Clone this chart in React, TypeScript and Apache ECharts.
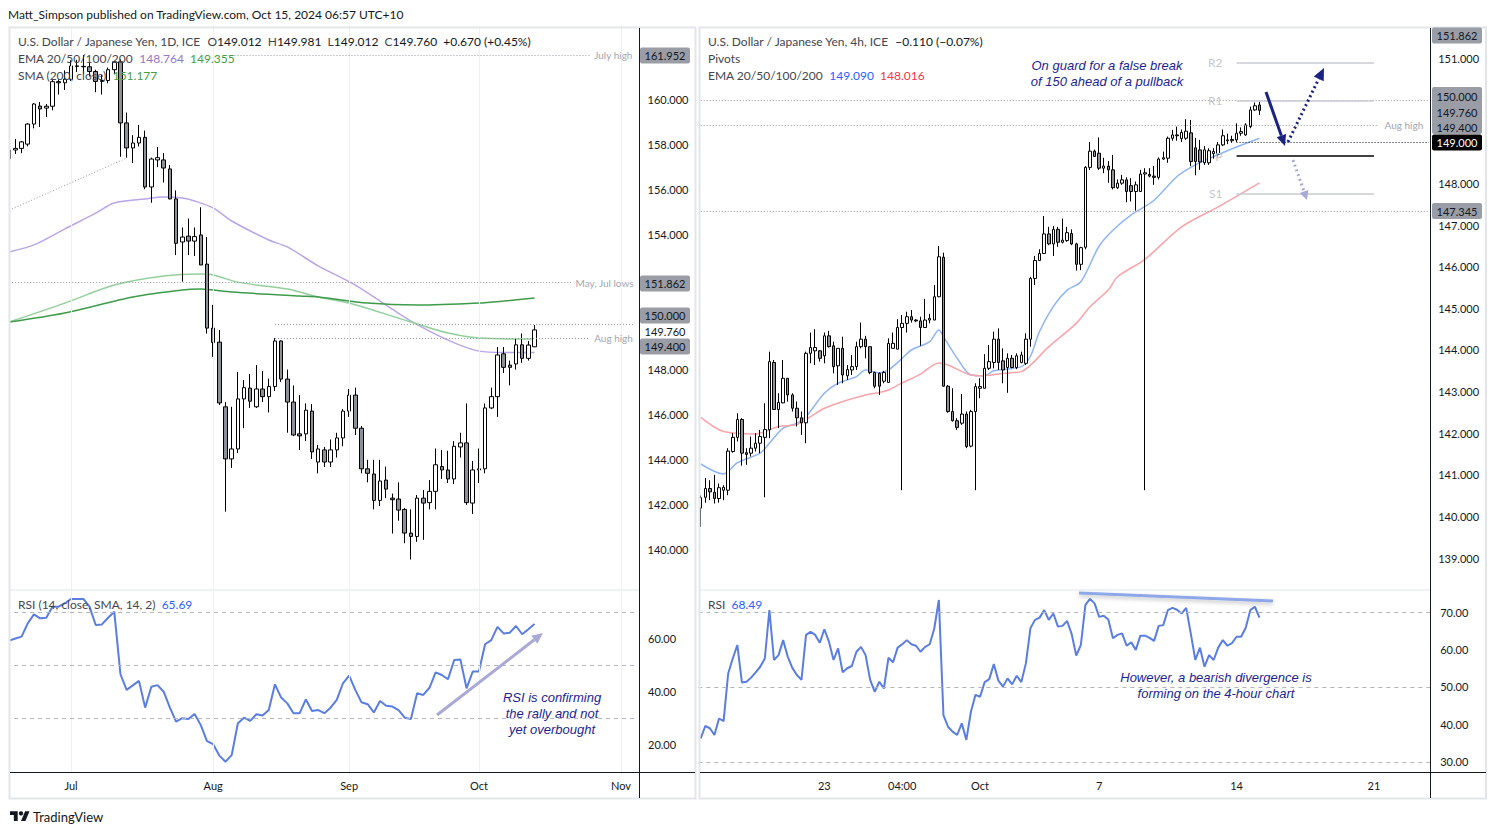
import React, { useEffect, useRef } from "react";
import * as echarts from "echarts";

const LATO = 'Lato, "Liberation Sans", Arial, sans-serif';
const ARIAL = '"Liberation Sans", Arial, sans-serif';
const INK = "#131722";
const LEG = "#434651";
const NAVY = "#1c1f8f";
const GRAYLBL = "#a3a6af";

// ---------------- LEFT: daily ----------------
const dailyStart = "2024-06-17";
const dailySlots = 102;
const dailyTicks: [string, string][] = [
  ["2024-07-01", "Jul"],
  ["2024-08-01", "Aug"],
  ["2024-09-02", "Sep"],
  ["2024-10-01", "Oct"],
  ["2024-11-01", "Nov"],
];
// [open, high, low, close]
const dailyOHLC: number[][] = [
  [157.35, 157.9, 157.2, 157.74],
  [157.74, 158.23, 157.56, 157.81],
  [157.81, 158.14, 157.6, 158.1],
  [158.0, 158.93, 157.9, 158.89],
  [158.89, 159.82, 158.7, 159.78],
  [159.69, 159.87, 158.76, 159.56],
  [159.6, 159.78, 159.2, 159.68],
  [159.68, 160.87, 159.5, 160.77],
  [160.77, 160.87, 160.2, 160.72],
  [160.72, 161.27, 160.4, 160.88],
  [160.88, 161.72, 160.8, 161.47],
  [161.47, 161.74, 161.2, 161.45],
  [161.45, 161.95, 161.1, 161.43],
  [161.43, 161.6, 161.0, 161.22],
  [161.22, 161.3, 160.3, 160.78],
  [160.78, 161.07, 160.2, 160.82],
  [160.82, 161.4, 160.7, 161.3],
  [161.3, 161.7, 161.1, 161.65],
  [161.65, 161.76, 157.44, 158.94],
  [158.94, 159.4, 157.4, 157.83],
  [157.83, 158.4, 157.16, 158.05],
  [158.05, 158.85, 157.9, 158.3],
  [158.3, 158.6, 156.0, 156.1],
  [156.1, 157.4, 155.4, 157.34],
  [157.3, 157.87, 156.98, 157.4],
  [157.3, 157.6, 156.3, 156.94],
  [156.9, 157.07, 155.55, 155.57],
  [155.57, 155.95, 153.08, 153.6],
  [153.66, 154.3, 151.9, 153.88],
  [153.92, 154.7, 153.08, 153.7],
  [153.7, 154.3, 153.04, 153.9],
  [153.97, 155.2, 152.64, 152.64],
  [152.68, 153.88, 149.6, 149.84],
  [149.84, 150.87, 148.56, 149.2],
  [149.22, 149.76, 146.43, 146.52],
  [146.35, 146.56, 141.7, 144.04],
  [144.04, 146.35, 143.64, 144.48],
  [144.48, 147.9, 144.3, 146.7],
  [146.7, 147.54, 145.4, 147.2],
  [147.18, 147.8, 146.3, 146.6],
  [146.35, 148.2, 146.3, 147.14],
  [147.14, 147.94, 146.56, 146.8],
  [146.8, 147.6, 146.1, 147.25],
  [147.25, 149.4, 147.05, 149.27],
  [149.27, 149.3, 147.45, 147.58],
  [147.58, 148.0, 145.2, 146.56],
  [146.56, 147.3, 145.05, 145.1],
  [145.15, 146.87, 144.43, 145.06],
  [145.15, 146.5, 144.83, 146.2],
  [146.16, 146.47, 144.04, 144.35],
  [143.9, 144.66, 143.4, 144.48],
  [144.44, 144.57, 143.68, 143.9],
  [143.9, 144.9, 143.68, 144.44],
  [144.44, 145.2, 144.1, 144.97],
  [144.97, 146.25, 144.6, 146.16],
  [146.16, 147.14, 145.9, 146.87],
  [146.87, 147.2, 145.1, 145.4],
  [145.4, 145.5, 143.4, 143.6],
  [143.6, 144.0, 143.0, 143.4],
  [143.37, 144.0, 141.8, 142.2],
  [142.2, 144.0, 141.95, 143.06],
  [143.1, 143.7, 142.3, 142.7],
  [142.3, 142.5, 140.73, 142.23],
  [142.26, 143.0, 141.3, 141.77],
  [141.8, 141.86, 140.3, 140.75],
  [140.75, 141.8, 139.58, 140.6],
  [140.6, 142.44, 140.36, 142.3],
  [142.3, 142.66, 140.45, 142.08],
  [142.1, 143.1, 141.8, 142.6],
  [142.6, 144.5, 141.8, 143.78],
  [143.7, 144.43, 143.15, 143.55],
  [143.55, 144.4, 142.97, 143.15],
  [143.15, 144.83, 142.93, 144.6],
  [144.57, 145.2, 144.1, 144.75],
  [144.75, 146.5, 142.0, 142.1],
  [142.08, 143.95, 141.6, 143.55],
  [143.55, 144.5, 142.97, 143.6],
  [143.6, 146.5, 143.4, 146.3],
  [146.3, 147.2, 146.25, 146.8],
  [146.8, 149.0, 145.9, 148.65],
  [148.7, 149.0, 147.85, 148.1],
  [148.2, 148.4, 147.3, 148.1],
  [148.25, 149.36, 148.0, 149.1],
  [149.1, 149.6, 148.3, 148.5],
  [148.5, 149.27, 148.4, 149.09],
  [149.012, 149.981, 149.012, 149.76],
];
// moving averages read at bar indices: [barIndex, value]
const dailyEmaPurple: number[][] = [
  [0, 153.22], [4, 153.53], [9, 154.24], [14, 154.94], [17, 155.39], [22, 155.57], [25, 155.65],
  [28, 155.61], [30, 155.48], [33, 155.17], [36, 154.59], [42, 153.75], [45, 153.44], [50, 152.6],
  [56, 151.75], [61, 150.86], [65, 150.15], [71, 149.31], [76, 148.82], [80, 148.76], [85, 148.764],
];
const dailyEmaGreen: number[][] = [
  [0, 150.11], [9, 150.95], [17, 151.75], [25, 152.15], [31, 152.24], [33, 152.2], [37, 151.88],
  [45, 151.57], [47, 151.44], [50, 151.22], [55, 150.95], [65, 150.11], [71, 149.62], [76, 149.4], [85, 149.355],
];
const dailySma200: number[][] = [
  [0, 150.11], [9, 150.51], [20, 151.22], [28, 151.53], [31, 151.57], [36, 151.44], [47, 151.26],
  [50, 151.22], [58, 150.95], [66, 150.86], [76, 150.95], [80, 151.04], [85, 151.177],
];
const dailyRsi: number[] = [
  59.4, 60.2, 60.9, 65.9, 69.3, 67.8, 68.0, 72.2, 72.2, 73.5,
  75.1, 75.1, 75.1, 72.2, 65.3, 65.5, 68.0, 70.3, 46.7, 40.8,
  42.5, 44.2, 34.1, 42.0, 42.6, 40.1, 34.1, 28.8, 30.1, 29.8,
  31.7, 27.5, 21.5, 20.3, 16.0, 13.7, 16.2, 28.2, 30.3, 29.1,
  31.6, 31.1, 33.2, 42.9, 37.9, 35.7, 32.0, 32.0, 37.2, 32.8,
  33.2, 32.0, 34.1, 37.0, 43.3, 46.2, 40.8, 36.1, 35.4, 32.3,
  36.6, 34.8, 34.5, 33.2, 30.3, 29.8, 39.5, 38.9, 41.6, 47.4,
  46.4, 44.8, 52.1, 52.3, 41.4, 47.7, 47.7, 58.0, 59.6, 64.6,
  62.1, 62.4, 64.9, 61.8, 63.7, 65.69,
];
const dailyPriceTicks = [140, 142, 144, 146, 148, 154, 156, 158, 160];
const dailyRsiTicks = [20, 40, 60];
const rsiLevels = [70, 50, 30];
// horizontal levels: price, from bar, to bar, label
const dailyLevels: [number, number, number, string][] = [
  [161.952, 35, 94, "July high"],
  [151.862, 0, 91, "May, Jul lows"],
  [150.0, 43, 101, ""],
  [149.4, 43, 94, "Aug high"],
];
const dailyTrend: number[][] = [[0, 155.07], [19, 157.38]];

// ---------------- RIGHT: 4h ----------------
const h4Slots = 160;
const h4Ticks: [number, string][] = [[27, "23"], [44, "04:00"], [61, "Oct"], [87, "7"], [117, "14"], [147, "21"]];
const h4OHLC: number[][] = [
  [140.2, 140.5, 139.75, 140.45], [140.46, 140.92, 140.33, 140.67], [140.67, 140.87, 140.39, 140.59],
  [140.58, 141.0, 140.31, 140.43], [140.43, 140.79, 140.33, 140.69], [140.63, 140.75, 140.39, 140.7],
  [140.63, 141.64, 140.51, 141.57], [141.56, 142.0, 141.53, 141.9], [141.9, 142.48, 141.8, 142.33],
  [142.33, 142.36, 141.22, 141.52], [141.53, 141.64, 141.24, 141.49], [141.52, 141.92, 141.44, 141.64],
  [141.64, 142.0, 141.56, 141.76], [141.76, 142.08, 141.52, 141.92], [141.9, 142.72, 140.46, 142.09],
  [142.08, 143.96, 141.88, 143.72], [143.7, 143.76, 142.56, 142.57], [142.57, 142.96, 142.12, 142.74],
  [142.73, 143.76, 142.72, 143.32], [143.32, 143.32, 142.76, 142.92], [142.92, 142.96, 142.52, 142.6],
  [142.6, 142.76, 142.16, 142.37], [142.37, 142.52, 141.96, 142.25], [142.25, 143.96, 141.76, 143.92],
  [143.92, 144.42, 143.68, 144.06], [143.98, 144.5, 143.64, 144.06], [143.98, 144.0, 143.72, 143.8],
  [143.86, 144.42, 143.68, 144.34], [144.34, 144.46, 144.06, 144.08], [144.1, 144.2, 143.44, 143.6],
  [143.62, 144.04, 143.16, 144.04], [144.04, 144.32, 143.2, 143.4], [143.38, 143.64, 143.28, 143.53],
  [143.52, 143.88, 143.4, 143.6], [143.6, 144.2, 143.52, 144.08], [144.08, 144.66, 144.04, 144.26],
  [144.26, 144.34, 143.8, 144.08], [144.08, 144.08, 143.42, 143.46], [143.46, 143.48, 143.08, 143.13],
  [143.44, 143.46, 142.92, 143.13], [143.25, 143.5, 143.2, 143.46], [143.22, 144.28, 143.21, 144.16],
  [144.04, 144.42, 144.04, 144.16], [144.02, 144.74, 144.02, 144.54], [144.54, 144.84, 140.63, 144.64],
  [144.64, 144.92, 144.42, 144.8], [144.8, 144.96, 144.66, 144.72], [144.72, 144.74, 144.67, 144.7],
  [144.7, 144.8, 144.1, 144.54], [144.54, 145.23, 144.54, 144.72], [144.72, 144.87, 144.64, 144.76],
  [144.72, 145.56, 144.72, 145.28], [145.28, 146.5, 145.27, 146.24], [146.23, 146.34, 143.12, 143.13],
  [143.13, 143.16, 142.49, 142.52], [142.52, 143.08, 142.28, 142.3], [142.3, 142.36, 142.08, 142.14],
  [142.24, 142.94, 142.2, 142.46], [142.46, 142.52, 141.64, 141.68], [141.69, 142.56, 141.66, 142.52],
  [142.52, 143.2, 140.63, 143.12], [143.08, 143.32, 142.84, 143.12], [143.08, 143.9, 143.08, 143.56],
  [143.56, 144.12, 143.52, 143.72], [143.7, 144.44, 143.56, 144.26], [144.26, 144.52, 143.52, 143.7],
  [143.74, 144.04, 143.2, 143.52], [143.58, 143.92, 142.97, 143.8], [143.8, 143.88, 143.56, 143.58],
  [143.58, 143.92, 143.54, 143.86], [143.7, 143.96, 143.68, 143.88], [143.68, 144.4, 143.64, 144.26],
  [144.26, 145.76, 144.08, 145.72], [145.72, 146.26, 145.56, 146.15], [146.15, 146.42, 146.15, 146.32],
  [146.32, 147.22, 146.32, 146.79], [146.79, 146.96, 146.52, 146.55], [146.55, 146.98, 146.26, 146.9],
  [146.9, 146.96, 146.48, 146.59], [146.59, 147.16, 146.56, 146.64], [146.63, 146.96, 146.6, 146.82],
  [146.8, 146.9, 146.52, 146.55], [146.55, 146.58, 145.91, 146.06], [146.06, 146.48, 145.92, 146.46],
  [146.47, 148.42, 146.42, 148.39], [148.39, 149.0, 148.33, 148.78], [148.78, 148.82, 148.65, 148.65],
  [148.73, 149.11, 148.33, 148.37], [148.37, 148.62, 148.25, 148.42], [148.42, 148.54, 148.02, 148.33],
  [148.33, 148.69, 147.86, 147.9], [147.9, 148.1, 147.87, 148.01], [148.01, 148.21, 147.97, 148.09],
  [148.09, 148.15, 147.55, 147.81], [147.95, 148.13, 147.57, 147.81], [147.81, 148.05, 147.35, 147.97],
  [147.81, 148.33, 147.81, 148.23], [148.23, 148.37, 140.63, 148.26], [148.22, 148.37, 148.15, 148.18],
  [148.18, 148.42, 147.97, 148.15], [148.15, 148.63, 148.1, 148.59], [148.59, 148.77, 148.57, 148.62],
  [148.61, 149.13, 148.5, 149.09], [149.09, 149.29, 149.03, 149.17], [149.17, 149.37, 149.03, 149.15],
  [149.08, 149.3, 149.0, 149.23], [149.09, 149.55, 149.05, 149.26], [149.22, 149.53, 148.42, 148.53],
  [148.86, 149.1, 148.2, 148.53], [148.81, 149.05, 148.33, 148.52], [148.5, 148.9, 148.45, 148.81],
  [148.5, 148.85, 148.45, 148.79], [148.72, 148.85, 148.6, 148.77], [148.71, 149.0, 148.65, 148.93],
  [148.93, 149.3, 148.9, 149.15], [149.05, 149.2, 148.95, 149.03], [149.03, 149.15, 148.98, 149.06],
  [149.05, 149.45, 149.0, 149.21], [149.21, 149.35, 149.15, 149.25], [149.17, 149.45, 149.15, 149.41],
  [149.37, 149.85, 149.33, 149.77], [149.77, 149.95, 149.75, 149.87], [149.89, 149.97, 149.65, 149.76],
];
const h4EmaBlue: number[][] = [
  [0, 141.26], [5, 141.02], [8, 141.29], [13, 141.52], [15, 141.76], [18, 142.12], [21, 142.24], [23, 142.4],
  [27, 142.96], [30, 143.2], [34, 143.36], [36, 143.52], [39, 143.45], [41, 143.52], [44, 143.8], [46, 144.0],
  [50, 144.2], [52, 144.48], [53, 144.32], [56, 143.8], [59, 143.4], [62, 143.38], [64, 143.5], [70, 143.6],
  [72, 143.85], [74, 144.45], [77, 145.05], [80, 145.44], [83, 145.64], [87, 146.5], [90, 146.88], [94, 147.25],
  [99, 147.6], [104, 148.17], [108, 148.45], [112, 148.65], [117, 148.88], [122, 149.09],
];
const h4EmaRed: number[][] = [
  [0, 142.38], [5, 142.04], [12, 141.98], [17, 142.16], [21, 142.21], [24, 142.4], [27, 142.6], [31, 142.76],
  [36, 142.92], [39, 142.98], [41, 143.04], [44, 143.21], [48, 143.42], [52, 143.69], [54, 143.64], [59, 143.4],
  [62, 143.38], [66, 143.44], [70, 143.48], [76, 144.08], [82, 144.64], [85, 145.04], [89, 145.44], [91, 145.76],
  [97, 146.18], [105, 146.96], [113, 147.44], [122, 148.016],
];
const h4Rsi: number[] = [
  36.3, 39.6, 39.0, 37.2, 41.6, 40.9, 53.6, 57.6, 61.2, 51.2,
  51.4, 52.5, 53.9, 55.4, 57.6, 70.5, 57.2, 58.5, 62.5, 58.1,
  55.1, 53.2, 51.9, 63.9, 64.7, 63.9, 61.8, 65.4, 62.1, 57.2,
  60.3, 53.9, 55.0, 55.6, 59.4, 60.7, 58.5, 51.9, 48.7, 51.4,
  49.6, 57.8, 56.6, 60.5, 61.4, 62.5, 61.4, 61.0, 59.4, 60.7,
  61.4, 65.6, 73.2, 42.5, 39.4, 38.1, 37.2, 40.3, 35.9, 43.4,
  47.9, 47.4, 51.3, 52.1, 56.1, 51.7, 50.1, 52.3, 50.7, 53.0,
  51.3, 56.3, 65.7, 67.9, 68.5, 70.5, 67.9, 69.6, 66.1, 66.3,
  67.6, 64.1, 58.4, 61.2, 71.9, 73.5, 72.3, 68.7, 69.0, 68.0,
  63.0, 63.9, 64.3, 61.0, 61.9, 59.9, 63.7, 63.7, 63.1, 62.3,
  66.3, 66.5, 70.5, 71.1, 70.6, 69.6, 71.1, 64.3, 57.2, 60.5,
  55.4, 58.5, 57.2, 60.5, 62.5, 61.0, 61.7, 63.4, 63.4, 65.8,
  70.5, 71.4, 68.49,
];
const h4PriceTicks = [139, 140, 141, 142, 143, 144, 145, 146, 147, 148, 151];
const h4RsiTicks = [30, 40, 50, 60, 70];
const h4Levels: [number, number, number, string, string][] = [
  [150.0, 0, 159, "", "#9598a1"],
  [149.4, 0, 148, "Aug high", "#9598a1"],
  [149.0, 117, 159, "", "#131722"],
  [147.345, 0, 159, "", "#9598a1"],
];
const pivotNames = ["R2", "R1", "P", "S1"];
const pivotPrices = [150.9, 150.0, 148.66, 147.75];
const pivotSpan = [117, 147];

// ---------------- helpers ----------------
function weekdayDates(start: string, count: number): string[] {
  const out: string[] = [];
  const d = new Date(start + "T00:00:00Z");
  while (out.length < count) {
    const wd = d.getUTCDay();
    if (wd !== 0 && wd !== 6) out.push(d.toISOString().slice(0, 10));
    d.setUTCDate(d.getUTCDate() + 1);
  }
  return out;
}
const minus = (s: string) => s.replace("-", "\u2212");

function txt(x: number, y: number, text: string, o: any = {}) {
  return {
    type: "text", x, y, z: 100, silent: true,
    style: {
      text, fill: o.fill || INK, fontSize: o.size || 12, fontFamily: o.family || LATO,
      fontStyle: o.italic ? "italic" : "normal", align: o.align || "left", verticalAlign: "middle",
    },
  };
}
function richTxt(x: number, y: number, parts: [string, string][], size = 12) {
  const rich: any = {};
  let text = "";
  parts.forEach(([s, c], i) => {
    rich["r" + i] = { fill: c, color: c, fontSize: size, fontFamily: LATO };
    text += "{r" + i + "|" + s + "}";
  });
  return { type: "text", x, y, z: 100, silent: true, style: { text, rich, fontSize: size, fontFamily: LATO, verticalAlign: "middle" } };
}
function line(x1: number, y1: number, x2: number, y2: number, stroke: string, w = 1, extra: any = {}) {
  return { type: "line", z: 100, silent: true, shape: { x1, y1, x2, y2 }, style: { stroke, lineWidth: w, ...extra } };
}
function rect(x: number, y: number, w: number, h: number, style: any, z = 100) {
  return { type: "rect", z, silent: true, shape: { x, y, width: w, height: h, r: 2 }, style };
}
function tag(x: number, yc: number, text: string, bg: string, fg: string) {
  return [rect(x, yc - 8, 50, 16, { fill: bg }, 101), { ...txt(x + 25, yc, text, { size: 11, fill: fg, align: "center" }), z: 102 }];
}
function arrow(x1: number, y1: number, x2: number, y2: number, color: string, w: number, dash: any, head: number, half: number) {
  const dx = x2 - x1, dy = y2 - y1, L = Math.hypot(dx, dy);
  const ux = dx / L, uy = dy / L;
  const bx = x2 - ux * head, by = y2 - uy * head;
  const px = -uy, py = ux;
  return [
    line(x1, y1, bx, by, color, w, dash ? { lineDash: dash } : {}),
    { type: "polygon", z: 100, silent: true, shape: { points: [[x2, y2], [bx + px * half, by + py * half], [bx - px * half, by - py * half]] }, style: { fill: color } },
  ];
}
const hLevel = (cats: string[], p: number, a: number, b: number, color: string, dash: any, width: number, label: string, pos: string, dist: number, lcolor: string, lsize: number) => {
  const ls = { color, type: dash, width };
  const lb = label ? { show: true, formatter: label, position: pos, distance: dist, color: lcolor, fontSize: lsize, fontFamily: LATO } : { show: false };
  return [
    { coord: [cats[a], p], lineStyle: ls, label: lb },
    { coord: [cats[b], p], lineStyle: ls, label: lb },
  ];
};

function buildOption() {
  const dCats = weekdayDates(dailyStart, dailySlots);
  const dTickMap: Record<string, string> = {};
  dailyTicks.forEach(([d, l]) => (dTickMap[d] = l));
  const hCats = Array.from({ length: h4Slots }, (_, i) => "b" + i);
  const hTickMap: Record<string, string> = {};
  h4Ticks.forEach(([i, l]) => (hTickMap[hCats[i]] = l));

  const L = { left: 6.11, width: 630.4 };
  const R = { left: 698.41, width: 732.8 };
  const MAIN = { top: 28, height: 561 };
  const SUB = { top: 590, height: 182 };

  const hiddenCat = (cats: string[], grid: number) => ({
    type: "category", gridIndex: grid, data: cats, boundaryGap: true,
    axisLine: { show: false }, axisTick: { show: false }, axisLabel: { show: false }, splitLine: { show: false },
  });
  const labelCat = (cats: string[], grid: number, map: Record<string, string>) => ({
    ...hiddenCat(cats, grid),
    axisLabel: {
      show: true, interval: (_i: number, v: string) => map[v] !== undefined, formatter: (v: string) => map[v] || "",
      margin: 8, color: INK, fontSize: 11, fontFamily: LATO,
    },
  });
  const valAxis = (grid: number, min: number, max: number, ticks: number[], dec: number, margin: number) => ({
    type: "value", gridIndex: grid, position: "right", min, max,
    axisLine: { show: false }, axisTick: { show: false }, splitLine: { show: false },
    axisLabel: { show: true, customValues: ticks, formatter: (v: number) => v.toFixed(dec), margin, color: INK, fontSize: 11, fontFamily: LATO },
  });

  const candleStyle = { color: "#ffffff", color0: "#8e9099", borderColor: "#000000", borderColor0: "#000000", borderColorDoji: "#000000", borderWidth: 1 };
  const vGrid = dailyTicks.map(([d]) => ({ xAxis: d, lineStyle: { color: "#eef0f4", type: "solid", width: 1 }, label: { show: false } }));
  const rsiDash = (levels: number[]) => levels.map((v) => ({ yAxis: v, lineStyle: { color: "#b2b5be", type: [4, 4], width: 1 }, label: { show: false } }));

  const dLast = dailyOHLC[dailyOHLC.length - 1];
  const dPrev = dailyOHLC[dailyOHLC.length - 2];
  const dChg = dLast[3] - dPrev[3];
  const hLast = h4OHLC[h4OHLC.length - 1];
  const hPrev = h4OHLC[h4OHLC.length - 2];
  const hChg = hLast[3] - hPrev[3];
  const sgn = (v: number, d: number) => (v >= 0 ? "+" : "\u2212") + Math.abs(v).toFixed(d);
  const lastV = (a: number[][]) => a[a.length - 1][1];

  const dailyLevelData = dailyLevels.map(([p, a, b, lbl]) => hLevel(dCats, p, a, b, "#9598a1", [1, 2], 1, lbl, "end", 4, GRAYLBL, 10));
  const trendData = [[
    { coord: [dCats[dailyTrend[0][0]], dailyTrend[0][1]], lineStyle: { color: "#9598a1", type: [1, 2], width: 1 }, label: { show: false } },
    { coord: [dCats[dailyTrend[1][0]], dailyTrend[1][1]], lineStyle: { color: "#9598a1", type: [1, 2], width: 1 }, label: { show: false } },
  ]];
  const h4LevelData = h4Levels.map(([p, a, b, lbl, c]) => hLevel(hCats, p, a, b, c, [1, 2], 1, lbl, "end", 6, GRAYLBL, 10));
  const pivotData = pivotPrices.map((p, i) =>
    hLevel(hCats, p, pivotSpan[0], pivotSpan[1], pivotNames[i] === "P" ? "#000000" : "#c8cbd2", "solid", 1.5, pivotNames[i], "start", 14, "#c4c7ce", 12)
  );

  const maLine = (xi: number, data: number[][], color: string, z = 2) => ({
    type: "line", xAxisIndex: xi, yAxisIndex: xi, data: data.map(([i, v]) => [i, v]), smooth: 0.3, showSymbol: false, symbol: "none",
    lineStyle: { color, width: 1.5 }, silent: true, z,
  });

  const graphic: any[] = [];
  // header
  graphic.push(txt(8, 14, "Matt_Simpson published on TradingView.com, Oct 15, 2024 06:57 UTC+10", { size: 12 }));
  // mask left overflow
  graphic.push(rect(0, 26, 9, 776, { fill: "#ffffff" }, 90));
  // frames
  graphic.push({ type: "rect", z: 95, silent: true, shape: { x: 9.5, y: 27.5, width: 686, height: 771 }, style: { fill: "none", stroke: "#e3e5ea", lineWidth: 2 } });
  graphic.push({ type: "rect", z: 95, silent: true, shape: { x: 699.5, y: 27.5, width: 786.5, height: 771 }, style: { fill: "none", stroke: "#e3e5ea", lineWidth: 2 } });
  graphic.push(line(10, 590, 639, 590, "#e0e3eb", 1));
  graphic.push(line(700, 590, 1430, 590, "#e0e3eb", 1));
  graphic.push(line(639.5, 28, 639.5, 798, "#131722", 1));
  graphic.push(line(10, 772.5, 695, 772.5, "#131722", 1));
  graphic.push(line(1430.5, 28, 1430.5, 798, "#131722", 1));
  graphic.push(line(700, 772.5, 1486, 772.5, "#131722", 1));

  // left legends
  graphic.push(richTxt(18, 41, [
    ["U.S. Dollar / Japanese Yen, 1D, ICE  ", LEG],
    ["O", LEG], [dLast[0].toFixed(3) + "  ", INK],
    ["H", LEG], [dLast[1].toFixed(3) + "  ", INK],
    ["L", LEG], [dLast[2].toFixed(3) + "  ", INK],
    ["C", LEG], [dLast[3].toFixed(3) + "  ", INK],
    [sgn(dChg, 3) + " (" + sgn((dChg / dPrev[3]) * 100, 2) + "%)", INK],
  ]));
  graphic.push(richTxt(18, 58, [["EMA 20/50/100/200  ", LEG], [lastV(dailyEmaPurple).toFixed(3) + "  ", "#9575cd"], [lastV(dailyEmaGreen).toFixed(3), "#43a047"]]));
  graphic.push(richTxt(18, 75, [["SMA (200, close)  ", LEG], [lastV(dailySma200).toFixed(3), "#43a047"]]));
  graphic.push(richTxt(18, 604, [["RSI (14, close, SMA, 14, 2)  ", LEG], [dailyRsi[dailyRsi.length - 1].toFixed(2), "#2962ff"]]));

  // right legends
  graphic.push(richTxt(708, 41, [["U.S. Dollar / Japanese Yen, 4h, ICE  ", LEG], [sgn(hChg, 3) + " (" + sgn((hChg / hPrev[3]) * 100, 2) + "%)", INK]]));
  graphic.push(richTxt(708, 58, [["Pivots", LEG]]));
  graphic.push(richTxt(708, 75, [["EMA 20/50/100/200  ", LEG], [lastV(h4EmaBlue).toFixed(3) + "  ", "#2962ff"], [lastV(h4EmaRed).toFixed(3), "#f23645"]]));
  graphic.push(richTxt(708, 604, [["RSI  ", LEG], [h4Rsi[h4Rsi.length - 1].toFixed(2), "#2962ff"]]));

  // left tags
  const TAG = "#9a9da6";
  graphic.push(...tag(640, 55.5, (161.952).toFixed(3), TAG, INK));
  graphic.push(...tag(640, 283.5, (151.862).toFixed(3), TAG, INK));
  graphic.push(...tag(640, 315.5, (150).toFixed(3), TAG, INK));
  graphic.push(txt(665, 331, dLast[3].toFixed(3), { size: 11, align: "center" }));
  graphic.push(...tag(640, 346.5, (149.4).toFixed(3), TAG, INK));
  // right tags
  graphic.push(...tag(1432, 35.5, (151.862).toFixed(3), TAG, INK));
  graphic.push(rect(1432, 87, 50, 47, { fill: TAG }, 101));
  graphic.push({ ...txt(1457, 96, (150).toFixed(3), { size: 11, align: "center" }), z: 102 });
  graphic.push({ ...txt(1457, 112, hLast[3].toFixed(3), { size: 11, align: "center" }), z: 102 });
  graphic.push({ ...txt(1457, 127, (149.4).toFixed(3), { size: 11, align: "center" }), z: 102 });
  graphic.push(...tag(1432, 142.5, (149).toFixed(3), "#000000", "#ffffff"));
  graphic.push(...tag(1432, 211, (147.345).toFixed(3), TAG, INK));

  // notes
  const noteOpt = { size: 13, family: ARIAL, italic: true, fill: NAVY, align: "center" };
  graphic.push(txt(1107, 65, "On guard for a false break", noteOpt));
  graphic.push(txt(1107, 81, "of 150 ahead of a pullback", noteOpt));
  graphic.push(txt(552, 697, "RSI is confirming", noteOpt));
  graphic.push(txt(552, 713, "the rally and not", noteOpt));
  graphic.push(txt(552, 729, "yet overbought", noteOpt));
  graphic.push(txt(1216, 677, "However, a bearish divergence is", noteOpt));
  graphic.push(txt(1216, 693, "forming on the 4-hour chart", noteOpt));

  // arrows
  graphic.push(...arrow(437, 715, 543, 633, "#aaa8d6", 3, null, 11, 5));
  graphic.push(...arrow(1266, 92, 1285, 146, "#1a237e", 3, null, 11, 5));
  graphic.push(...arrow(1288, 142, 1324, 68, "#1a237e", 3, [2, 3], 12, 5.5));
  graphic.push(...arrow(1293, 160, 1307, 200, "#a9a9d6", 3, [2, 3], 9, 4.5));
  graphic.push(line(1079, 593, 1273, 601, "#8ea7e9", 3, { shadowBlur: 4, shadowColor: "rgba(0,0,0,0.25)", shadowOffsetY: 2 }));

  // TradingView logo
  graphic.push({
    type: "group", x: 10, y: 809, scaleX: 0.55, scaleY: 0.55, z: 100, silent: true,
    children: [
      { type: "polygon", shape: { points: [[0, 4], [14, 4], [14, 22], [7, 22], [7, 11], [0, 11]] }, style: { fill: INK } },
      { type: "polygon", shape: { points: [[20, 22], [27.5, 4], [35.5, 4], [28, 22]] }, style: { fill: INK } },
      { type: "circle", shape: { cx: 20, cy: 8, r: 4 }, style: { fill: INK } },
    ],
  });
  graphic.push(txt(33, 817, "TradingView", { size: 13 }));

  return {
    animation: false,
    backgroundColor: "#ffffff",
    grid: [
      { ...L, ...MAIN, outerBoundsMode: "none", containLabel: false },
      { ...L, ...SUB, outerBoundsMode: "none", containLabel: false },
      { ...R, ...MAIN, outerBoundsMode: "none", containLabel: false },
      { ...R, ...SUB, outerBoundsMode: "none", containLabel: false },
    ],
    xAxis: [hiddenCat(dCats, 0), labelCat(dCats, 1, dTickMap), hiddenCat(hCats, 2), labelCat(hCats, 3, hTickMap)],
    yAxis: [
      valAxis(0, 138.27, 163.15, dailyPriceTicks, 3, 11),
      valAxis(1, 9.81, 78.49, dailyRsiTicks, 2, 11.5),
      valAxis(2, 138.255, 151.74, h4PriceTicks, 3, 7),
      valAxis(3, 27.33, 75.87, h4RsiTicks, 2, 9),
    ],
    series: [
      maLine(0, dailyEmaPurple, "#b9a6e6"),
      maLine(0, dailyEmaGreen, "#93cf9c"),
      maLine(0, dailySma200, "#3f9b4c"),
      {
        type: "candlestick", xAxisIndex: 0, yAxisIndex: 0, z: 3, barWidth: 4, silent: true,
        data: dailyOHLC.map(([o, h, l, c]) => [o, c, l, h]),
        itemStyle: candleStyle,
        markLine: { silent: true, symbol: ["none", "none"], animation: false, label: { show: false }, data: [...vGrid, ...dailyLevelData, ...trendData] },
      },
      {
        type: "line", xAxisIndex: 1, yAxisIndex: 1, data: dailyRsi, showSymbol: false, symbol: "none", silent: true,
        lineStyle: { color: "#5a7ee0", width: 2 },
        markLine: { silent: true, symbol: ["none", "none"], animation: false, label: { show: false }, data: [...vGrid, ...rsiDash(rsiLevels)] },
      },
      maLine(2, h4EmaBlue, "#8fb5f5"),
      maLine(2, h4EmaRed, "#f7a5aa"),
      {
        type: "candlestick", xAxisIndex: 2, yAxisIndex: 2, z: 3, barWidth: 3, silent: true,
        data: h4OHLC.map(([o, h, l, c]) => [o, c, l, h]),
        itemStyle: candleStyle,
        markLine: { silent: true, symbol: ["none", "none"], animation: false, label: { show: false }, data: [...h4LevelData, ...pivotData] },
      },
      {
        type: "line", xAxisIndex: 3, yAxisIndex: 3, data: h4Rsi, showSymbol: false, symbol: "none", silent: true,
        lineStyle: { color: "#5a7ee0", width: 2 },
        markLine: { silent: true, symbol: ["none", "none"], animation: false, label: { show: false }, data: rsiDash(rsiLevels) },
      },
    ],
    graphic,
  };
}

export default function App() {
  const ref = useRef<HTMLDivElement>(null);
  useEffect(() => {
    if (!ref.current) return;
    const chart = echarts.init(ref.current, null, { renderer: "svg" });
    chart.setOption(buildOption() as any);
    return () => chart.dispose();
  }, []);
  return (
    <div
      ref={ref}
      style={{ position: "fixed", left: 0, top: 0, width: 1495, height: 835, background: "#ffffff" }}
    />
  );
}
